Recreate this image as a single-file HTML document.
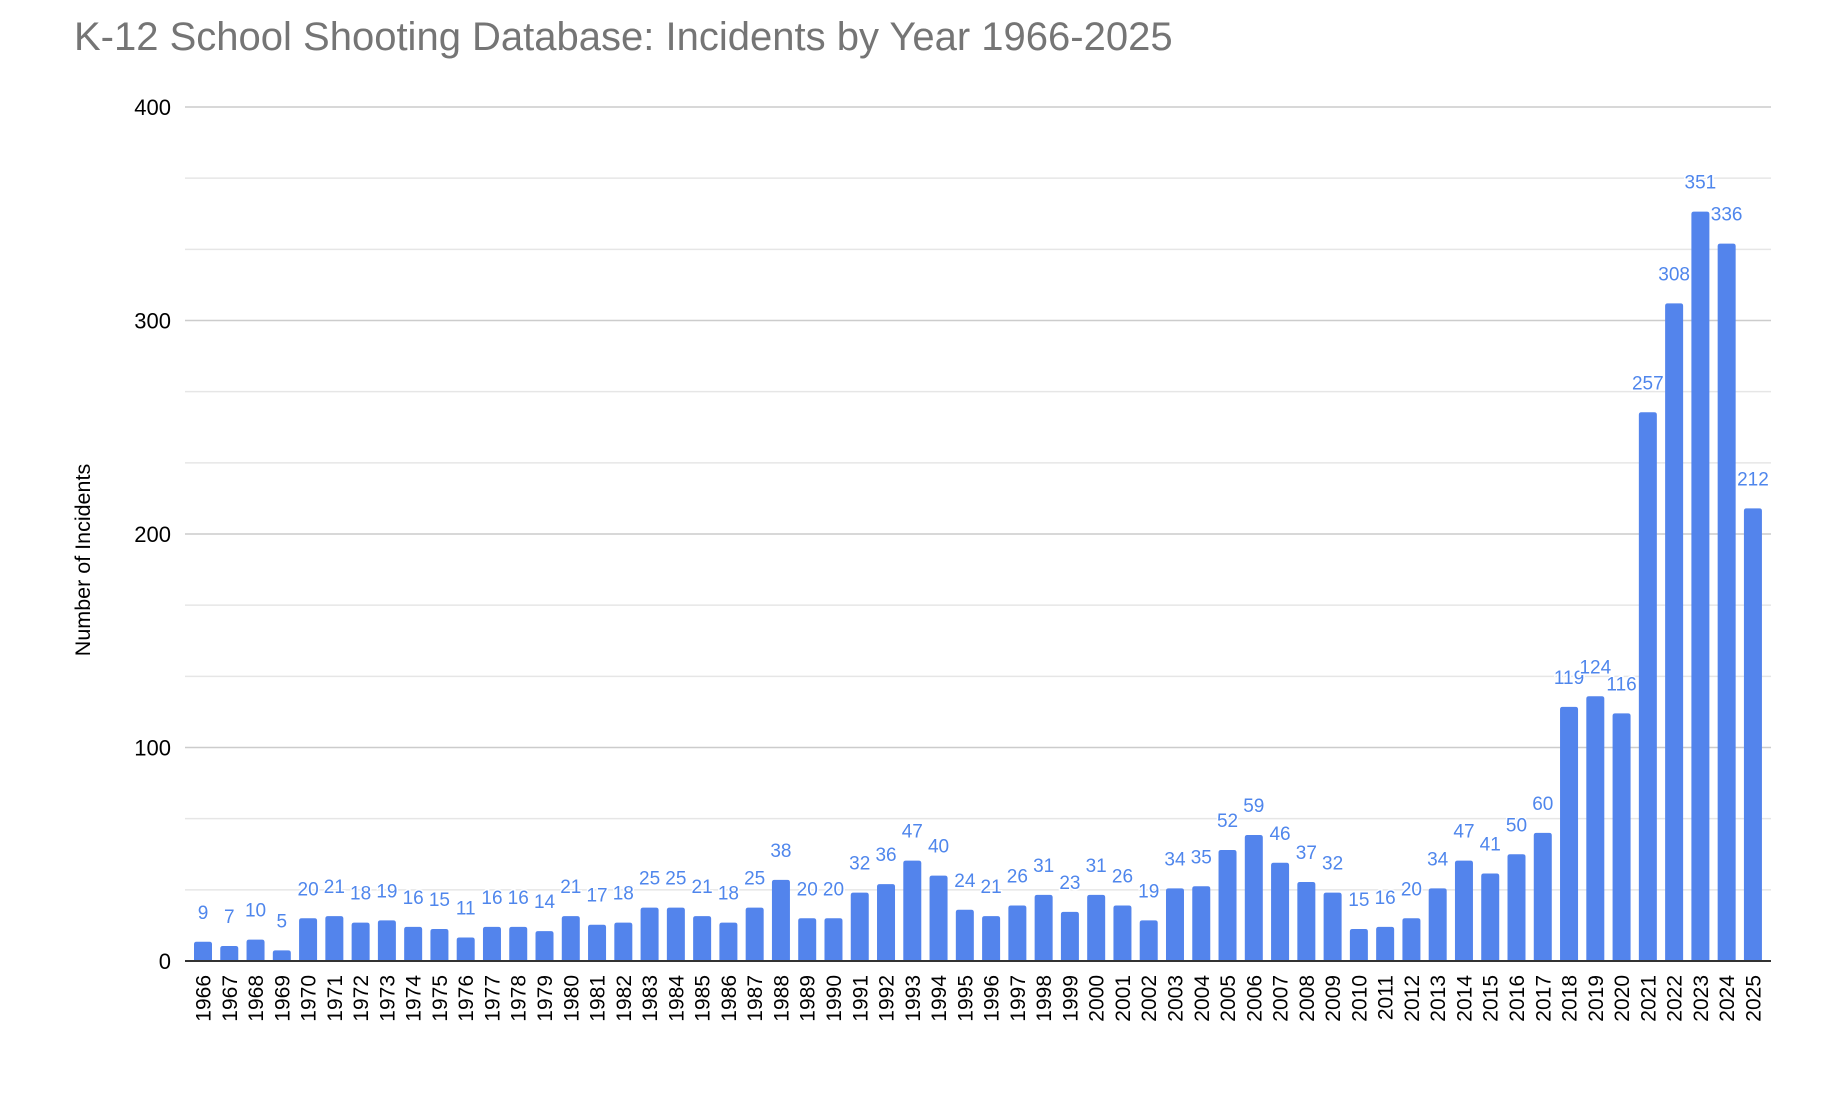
<!DOCTYPE html>
<html><head><meta charset="utf-8"><style>
html,body{margin:0;padding:0;background:#fff;}
svg{display:block;font-family:"Liberation Sans",Arial,sans-serif;}
</style></head><body>
<svg id="chart" width="1838" height="1094" viewBox="0 0 1838 1094">
<text x="74" y="50" font-size="40" fill="#757575">K-12 School Shooting Database: Incidents by Year 1966-2025</text>
<text transform="translate(90,560) rotate(-90)" text-anchor="middle" font-size="21.5" fill="#000">Number of Incidents</text>
<g id="grid"></g><g id="bars"></g><g id="labels"></g><g id="xlabels"></g>
</svg>
<script>
const years = [];
for (let y = 1966; y <= 2025; y++) years.push(String(y));
const incidents = [9,7,10,5,20,21,18,19,16,15,11,16,16,14,21,17,18,25,25,21,18,25,38,20,20,32,36,47,40,24,21,26,31,23,31,26,19,34,35,52,59,46,37,32,15,16,20,34,47,41,50,60,119,124,116,257,308,351,336,212];
const yTicks = [0,100,200,300,400];
const yMinor = [33.33,66.67,133.33,166.67,233.33,266.67,333.33,366.67];

const NS = "http://www.w3.org/2000/svg";
const x0 = 185, x1 = 1771, y0 = 961, yTop = 107, yMax = 400;
const slot = 26.27, firstCenter = 203, barW = 18;
function yScale(v){ return y0 - (v / yMax) * (y0 - yTop); }
function xCenter(i){ return firstCenter + i * slot; }
function mk(tag, attrs, parent){ const e = document.createElementNS(NS, tag); for (const k in attrs) e.setAttribute(k, attrs[k]); parent.appendChild(e); return e; }

const grid = document.getElementById('grid');
yMinor.forEach(v => {
  const l = mk('line', {x1:x0, x2:x1, y1:yScale(v), y2:yScale(v), stroke:'#e6e6e6', 'stroke-width':1.5}, grid);
  
  
});
yTicks.forEach(v => {
  if (v > 0) {
    const l = mk('line', {x1:x0, x2:x1, y1:yScale(v), y2:yScale(v), stroke:'#cccccc', 'stroke-width':1.5}, grid);
    
    
  }
  const t = mk('text', {x:171, y:yScale(v)+8, 'text-anchor':'end', 'font-size':22, fill:'#000'}, grid);
  t.textContent = String(v);
  
  
});

const bars = document.getElementById('bars');
const labels = document.getElementById('labels');
const xl = document.getElementById('xlabels');
incidents.forEach((v, i) => {
  const cx = xCenter(i), top = yScale(v), h = y0 - top;
  const r = Math.min(2.5, h/2);
  const p = mk('path', {d:`M${cx-barW/2},${y0} V${top+r} Q${cx-barW/2},${top} ${cx-barW/2+r},${top} H${cx+barW/2-r} Q${cx+barW/2},${top} ${cx+barW/2},${top+r} V${y0} Z`, fill:'#5384ec'}, bars);
  
  
  const t = mk('text', {x:cx, y:top-23, 'text-anchor':'middle', 'font-size':19, fill:'#4f86ec', stroke:'#fff', 'stroke-width':3, 'paint-order':'stroke'}, labels);
  t.textContent = String(v);
  
  
  const yt = mk('text', {transform:`translate(${cx+7.5},975) rotate(-90)`, 'text-anchor':'end', 'font-size':21, fill:'#000'}, xl);
  yt.textContent = years[i];
  
  
});
const ax = mk('line', {x1:x0, x2:x1, y1:y0, y2:y0, stroke:'#333', 'stroke-width':2}, document.getElementById('chart'));


</script>
</body></html>
